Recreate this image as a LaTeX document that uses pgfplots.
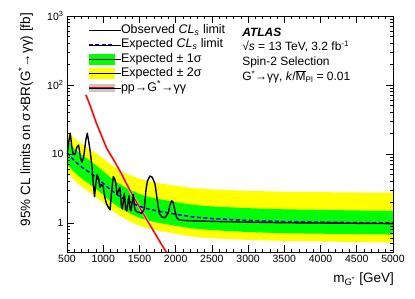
\documentclass[border=0pt]{standalone}
\usepackage{fontspec}
\setmainfont{Liberation Sans}
\usepackage{pgfplots}
\usepackage{pgfplotstable}
\pgfplotsset{compat=1.18}
\definecolor{rootgreen}{RGB}{0,255,0}
\definecolor{rootyellow}{RGB}{255,255,0}
\definecolor{rootblue}{RGB}{0,0,255}
\definecolor{rootred}{RGB}{255,0,0}

\pgfplotstableread{
m exp
500 10.5
600 8.0
700 6.5
800 5.5
900 4.6
1000 3.75
1100 3.05
1200 2.55
1300 2.2
1400 1.95
1500 1.75
1600 1.62
1700 1.53
1800 1.46
1900 1.40
2000 1.34
2250 1.22
2500 1.16
3000 1.09
3500 1.05
4000 1.03
4500 1.01
5000 1.0
}\expected

% +2 sigma (forward) then -2 sigma (backward)
\pgfplotstableread{
m y
500 22.05
600 17.0
700 14.0
800 12.0
900 10.3
1000 8.63
1100 7.14
1200 6.07
1300 5.32
1400 4.78
1500 4.38
1600 4.08
1700 3.89
1800 3.74
1900 3.60
2000 3.46
2250 3.2
2500 3.07
3000 2.92
3500 2.84
4000 2.8
4500 2.77
5000 2.75
5000 0.52
4500 0.53
4000 0.54
3500 0.55
3000 0.57
2500 0.60
2250 0.63
2000 0.70
1900 0.73
1800 0.76
1700 0.80
1600 0.84
1500 0.91
1400 1.01
1300 1.14
1200 1.33
1100 1.59
1000 1.95
900 2.39
800 2.86
700 3.38
600 4.16
500 5.46
}\twosigma

% +1 sigma (forward) then -1 sigma (backward)
\pgfplotstableread{
m y
500 15.75
600 12.0
700 9.75
800 8.25
900 6.9
1000 5.63
1100 4.58
1200 3.83
1300 3.3
1400 2.93
1500 2.63
1600 2.43
1700 2.30
1800 2.19
1900 2.10
2000 2.01
2250 1.83
2500 1.74
3000 1.64
3500 1.58
4000 1.55
4500 1.52
5000 1.5
5000 0.68
4500 0.69
4000 0.70
3500 0.71
3000 0.74
2500 0.79
2250 0.83
2000 0.91
1900 0.95
1800 0.99
1700 1.04
1600 1.10
1500 1.19
1400 1.33
1300 1.50
1200 1.73
1100 2.07
1000 2.55
900 3.13
800 3.74
700 4.42
600 5.44
500 7.14
}\onesigma

\pgfplotstableread{
m obs
500 9.5
520 14
545 20
565 13
585 10
610 9.8
635 12.5
660 13.5
685 9
705 7.6
730 9
760 16
780 20
800 15
820 11
845 6.5
865 3.5
880 2.4
895 3.5
915 5
935 4.5
955 3.3
975 3.6
1000 3.4
1020 2.4
1045 1.9
1070 1.7
1095 1.55
1115 2.8
1140 4.7
1160 4.3
1176 3.76
1190 2.6
1210 2.9
1231 3.3
1250 1.8
1264 1.6
1291 2.7
1310 1.6
1324 1.5
1356 2.5
1370 1.6
1383 1.5
1415 2.6
1435 1.6
1461 1.46
1500 1.42
1530 1.38
1567 1.6
1590 3.0
1608 4.0
1645 4.8
1677 4.6
1714 3.7
1746 2.15
1774 1.38
1807 1.23
1852 1.19
1898 1.4
1920 1.8
1945 2.1
1965 2.0
1990 1.5
2015 1.2
2040 1.12
2100 1.09
2300 1.07
2600 1.05
3000 1.03
3500 1.01
4000 1.0
4500 0.99
5000 0.98
}\obs

\pgfplotstableread{
m th
760 72
800 57
850 41
900 29
950 21.5
1000 16
1050 12
1100 9.8
1150 8
1200 6.5
1250 5.2
1300 4.1
1350 3.25
1400 2.6
1450 2.1
1500 1.7
1550 1.38
1600 1.12
1650 0.92
1700 0.75
1750 0.61
1800 0.5
1850 0.41
1900 0.34
1950 0.28
}\theory

\begin{document}
\begin{tikzpicture}
\path[use as bounding box] (-67pt,-46pt) rectangle (348pt,252pt);
\begin{axis}[
  scale only axis, width=326pt, height=236pt,
  ymode=log, xmin=500, xmax=5000, ymin=0.38, ymax=1000,
  xtick={500,1000,...,5000}, minor x tick num=4,
  ytick={1,10,100,1000},
  yticklabels={1,10,10\textsuperscript{2},10\textsuperscript{3}},
  minor ytick={0.4,0.5,0.6,0.7,0.8,0.9,2,3,4,5,6,7,8,9,20,30,40,50,60,70,80,90,200,300,400,500,600,700,800,900},
  tick align=inside, major tick length=7pt, minor tick length=3.5pt,
  tick style={black, line width=0.6pt},
  axis line style={line width=0.8pt},
  axis on top,
  /pgf/number format/assume math mode=true,
  /pgf/number format/1000 sep={},
  ticklabel style={font=\fontsize{10.5}{12}\selectfont},
  xlabel={m\textsubscript{G\textsuperscript{*}} [GeV]},
  xlabel style={at={(axis description cs:1.003,-0.085)}, anchor=north east, inner sep=0pt, font=\fontsize{13.5}{15}\selectfont},
  ylabel={95\% CL limits on σ×BR(G\textsuperscript{*}→γγ) [fb]},
  ylabel style={at={(axis description cs:-0.104,1.013)}, anchor=south east, inner sep=0pt, font=\fontsize{13.5}{15}\selectfont},
  legend style={at={(rel axis cs:0.064,0.966)}, anchor=north west, draw=none, fill=none,
    font=\fontsize{12.5}{14}\selectfont, row sep=1.9pt, inner sep=0pt,
    nodes={inner sep=0pt, text height=9.3pt, text depth=3.2pt}},
  legend cell align=left,
]
\addlegendimage{legend image code/.code={\draw[black, line width=1.5pt] (0pt,0pt) -- (25pt,0pt); \path (0pt,0pt) -- (32pt,0pt);}}
\addlegendentry{Observed \textit{CL}\textsubscript{\textit{s}} limit}
\addlegendimage{legend image code/.code={\draw[rootblue, line width=1.5pt, dash pattern=on 4pt off 2.5pt] (0pt,0pt) -- (25pt,0pt); \path (0pt,0pt) -- (32pt,0pt);}}
\addlegendentry{Expected \textit{CL}\textsubscript{\textit{s}} limit}
\addlegendimage{legend image code/.code={\fill[rootgreen] (0pt,-5pt) rectangle (25pt,5pt); \path (0pt,0pt) -- (32pt,0pt);}}
\addlegendentry{Expected ± 1σ}
\addlegendimage{legend image code/.code={\fill[rootyellow] (0pt,-5pt) rectangle (25pt,5pt); \path (0pt,0pt) -- (32pt,0pt);}}
\addlegendentry{Expected ± 2σ}
\addlegendimage{legend image code/.code={\fill[black!22] (0pt,-3.5pt) rectangle (25pt,3.5pt); \draw[rootred, line width=1.3pt] (0pt,0pt) -- (25pt,0pt); \path (0pt,0pt) -- (32pt,0pt);}}
\addlegendentry{pp→G\textsuperscript{*}→γγ}

\addplot[fill=rootyellow, draw=none, forget plot] table[x=m, y=y]{\twosigma};
\addplot[fill=rootgreen, draw=none, forget plot] table[x=m, y=y]{\onesigma};

\addplot[black!20, line width=2.6pt, forget plot] table[x=m, y=th]{\theory};
\addplot[rootred, line width=1.3pt, forget plot] table[x=m, y=th]{\theory};
\addplot[rootblue, line width=1.5pt, dash pattern=on 4pt off 2.5pt, forget plot] table[x=m, y=exp]{\expected};
\addplot[black, line width=1.4pt, line join=round, forget plot] table[x=m, y=obs]{\obs};

\node[anchor=base west, inner sep=0pt, font=\fontsize{12}{14}\selectfont\bfseries\itshape] at (rel axis cs:0.537,0.915) {ATLAS};
\node[anchor=base west, inner sep=0pt, font=\fontsize{12}{14}\selectfont] at (rel axis cs:0.537,0.854) {√\textit{s} = 13 TeV, 3.2 fb\textsuperscript{-1}};
\node[anchor=base west, inner sep=0pt, font=\fontsize{12}{14}\selectfont] at (rel axis cs:0.537,0.792) {Spin-2 Selection};
\node[anchor=base west, inner sep=0pt, font=\fontsize{12}{14}\selectfont] at (rel axis cs:0.537,0.727) {G\textsuperscript{*}→γγ, \textit{k}/$\overline{\mbox{M}}$\textsubscript{Pl} = 0.01};
\end{axis}
\end{tikzpicture}
\end{document}
